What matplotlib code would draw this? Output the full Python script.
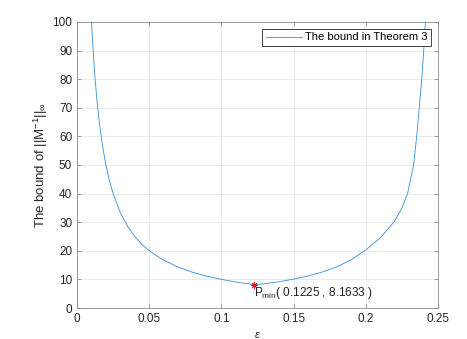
import matplotlib
matplotlib.use("Agg")
import matplotlib.pyplot as plt

plt.rcParams['font.family'] = ['Liberation Sans', 'DejaVu Sans']
plt.rcParams['mathtext.fontset'] = 'custom'
plt.rcParams['mathtext.rm'] = 'Liberation Sans'
plt.rcParams['mathtext.it'] = 'Liberation Sans:italic'
plt.rcParams['mathtext.bf'] = 'Liberation Sans:bold'

# valores
eps = [0.009, 0.010, 0.011, 0.0125, 0.014, 0.016, 0.018, 0.020, 0.0225, 0.025,
       0.030, 0.035, 0.040, 0.045, 0.050, 0.060, 0.070, 0.080, 0.090, 0.100,
       0.110, 0.1225, 0.130, 0.140, 0.150, 0.160, 0.170, 0.180, 0.190, 0.200,
       0.210, 0.2197, 0.225, 0.2289, 0.2331, 0.2352, 0.2370, 0.2387, 0.2401,
       0.2412, 0.2430]
cota = [111.0, 100.0, 90.9, 80.0, 71.4, 62.5, 55.6, 50.0, 44.4, 40.0,
        33.3, 28.6, 25.0, 22.2, 20.0, 16.7, 14.3, 12.5, 11.1, 10.0,
        9.09, 8.1633, 8.5, 9.2, 10.1, 11.2, 12.6, 14.4, 16.9, 20.3,
        24.5, 30.2, 35.0, 40.0, 50.0, 60.0, 70.0, 80.0, 90.0,
        100.0, 120.0]
p_min = (0.1225, 8.1633)
x_ticks = [0, 0.05, 0.1, 0.15, 0.2, 0.25]
x_labels = ['0', '0.05', '0.1', '0.15', '0.2', '0.25']
y_ticks = [0, 10, 20, 30, 40, 50, 60, 70, 80, 90, 100]

fig = plt.figure(figsize=(4.67, 3.39), dpi=100)
ax = fig.add_axes([0.165, 0.0914, 0.773, 0.844])

ax.plot(eps, cota, color='#2F8FD8', linewidth=0.6, label='The bound in Theorem 3')
ax.plot(p_min[0], p_min[1], marker=(8, 2, 0), color='red', markersize=5,
        markeredgewidth=0.6, linestyle='none')
ax.text(p_min[0], p_min[1] - 3.0, 'P$_{\\mathrm{min}}$( %.4f , %.4f )' % p_min,
        fontsize=8.5, va='center', ha='left', color='#222222')

ax.set_xlim(0, 0.25)
ax.set_ylim(0, 100)
ax.set_xticks(x_ticks)
ax.set_xticklabels(x_labels)
ax.set_yticks(y_ticks)

for s in ax.spines.values():
    s.set_color('#8c8c8c')
    s.set_linewidth(0.6)
ax.tick_params(direction='in', length=3, width=0.6, colors='#8c8c8c',
               labelcolor='#262626', labelsize=8.5, top=True, right=True)
ax.grid(True, color='#e6e6e6', linewidth=0.6)
ax.set_axisbelow(True)

ax.set_xlabel('$\\epsilon$', fontsize=8, color='#262626', labelpad=4)
ax.set_ylabel('The bound of ||M$^{-1}$||$_{\\infty}$', fontsize=9.5, color='#262626',
              labelpad=2)

leg = ax.legend(loc='upper right', fontsize=8, fancybox=False, framealpha=1,
                edgecolor='#262626', handlelength=3.2, borderpad=0.35,
                borderaxespad=0.6, handletextpad=0.3)
leg.get_frame().set_linewidth(0.6)

fig.savefig('out.png', dpi=100)
